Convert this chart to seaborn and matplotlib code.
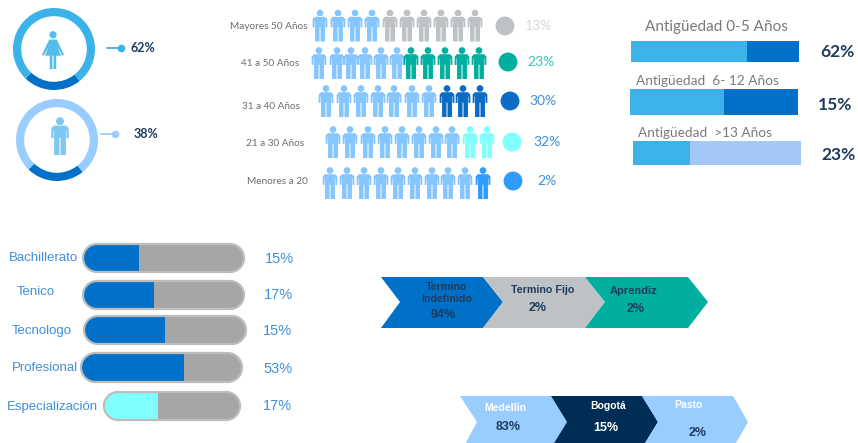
import numpy as np
import pandas as pd
import seaborn as sns
import matplotlib.pyplot as plt
from matplotlib.patches import Polygon
from matplotlib.path import Path

W, H = 858, 443

# data
gender_share = [23, 77]
gender_labels = ['62%', '38%']

age_labels = ['Mayores 50 Años', '41 a 50 Años', '31 a 40 Años', '21 a 30 Años', 'Menores a 20']
age_pct = ['13%', '23%', '30%', '32%', '2%']
age_light = [4, 6, 7, 8, 9]
age_accent = [6, 5, 3, 2, 1]

tenure_labels = ['Antigüedad 0-5 Años', 'Antigüedad  6- 12 Años', 'Antigüedad  >13 Años']
tenure_pct = ['62%', '15%', '23%']
tenure_fill = [0.69, 0.56, 0.34]

edu_labels = ['Bachillerato', 'Tenico', 'Tecnologo', 'Profesional', 'Especialización']
edu_pct = ['15%', '17%', '15%', '53%', '17%']
edu_fill = [0.35, 0.44, 0.50, 0.64, 0.40]

contract_labels = ['Termino\nIndefinido', 'Termino Fijo', 'Aprendiz']
contract_pct = ['94%', '2%', '2%']
city_labels = ['Medellin', 'Bogotá', 'Pasto']
city_pct = ['83%', '15%', '2%']

# styles and layout, all in pixels of the picture
BLUE = '#0070C8'
SKY = '#3BB3E8'
PALE = '#99CCFF'
NAVY = '#1F3B5C'
TEXT_BLUE = '#3F8FD8'
age_colors = ['#BFC2C5', '#00AFA0', '#0A6CC4', '#7FFFFF', '#2E9BFF']
age_pct_colors = ['#D5D7D9', '#3CC4B8', '#3F8FD8', '#3F8FD8', '#3F8FD8']
age_y = [25.5, 63, 101, 142, 183]
age_x = [
    [320, 338, 355, 372, 390, 407, 424, 441, 458, 475],
    [319, 337, 351, 365, 381, 397, 411, 428, 445, 462, 479],
    [326, 344, 361, 378, 394, 412, 429, 447, 463, 480],
    [333, 350, 368, 385, 402, 419, 436, 452, 470, 487],
    [330, 347, 364, 381, 398, 415, 432, 448, 465, 483],
]
age_dot_x = [505, 508, 510, 512, 513]
age_pct_x = [538, 541, 543, 547, 547]
age_pct_y = [26, 62, 101, 142, 181]
age_text_x = [269, 270, 271, 275, 277]
age_text_y = [26, 63, 106, 143, 182]

tenure_box = [(631, 41, 799, 62), (630, 89, 798, 115), (633, 141, 801, 165)]
tenure_right = [BLUE, BLUE, '#A3C8F5']
tenure_text = [(716, 27, 11), (707, 81, 9.8), (705, 133, 9.8)]
tenure_pct_xy = [(837, 52), (835, 105), (838, 155)]

edu_box = [(83, 244, 244, 272), (83, 281, 244, 309), (84, 316, 246, 344),
           (81, 353, 242, 382), (104, 392, 240, 420)]
edu_colors = [BLUE, BLUE, BLUE, BLUE, '#7FFFFF']
edu_text_xy = [(43, 258), (36, 292), (42, 331), (45, 368), (52, 407)]
edu_pct_xy = [(279, 259), (278, 295), (277, 331), (278, 369), (277, 406)]

sns.set_style('white')
plt.rcParams['font.family'] = ['Lato', 'DejaVu Sans']

fig = plt.figure(figsize=(W / 100, H / 100), dpi=100)
ax = fig.add_axes([0, 0, 1, 1])


def pixel_axes(x0, y0, x1, y1):
    a = fig.add_axes([x0 / W, 1 - y1 / H, (x1 - x0) / W, (y1 - y0) / H])
    a.axis('off')
    return a


def pill_points(x0, y0, x1, y1):
    r = (y1 - y0) / 2
    t = np.linspace(-np.pi / 2, np.pi / 2, 40)
    right = np.column_stack([x1 - r + r * np.cos(t), (y0 + r) + r * np.sin(t)])
    left = np.column_stack([x0 + r - r * np.cos(t), (y0 + r) - r * np.sin(t)])
    return np.vstack([right, left])


def person_path():
    head = Path.circle((0, 0.78), 0.21)
    body = Path([(-0.46, 0.4), (-0.32, 0.55), (0.32, 0.55), (0.46, 0.4), (0.46, -0.12),
                 (0.34, -0.12), (0.34, 0.28), (0.31, 0.28), (0.31, -1), (0.03, -1),
                 (0.03, -0.1), (-0.03, -0.1), (-0.03, -1), (-0.31, -1), (-0.31, 0.28),
                 (-0.34, 0.28), (-0.34, -0.12), (-0.46, -0.12), (-0.46, 0.4)], closed=True)
    return Path.make_compound_path(head, body)


def woman_path():
    head = Path.circle((0, 0.8), 0.19)
    body = Path([(-0.2, 0.55), (0.2, 0.55), (0.58, -0.25), (0.49, -0.3), (0.24, 0.15),
                 (0.42, -0.3), (0.17, -0.3), (0.17, -1), (0.03, -1), (0.03, -0.3),
                 (-0.03, -0.3), (-0.03, -1), (-0.17, -1), (-0.17, -0.3), (-0.42, -0.3),
                 (-0.24, 0.15), (-0.49, -0.3), (-0.58, -0.25), (-0.2, 0.55)], closed=True)
    return Path.make_compound_path(head, body)


PERSON = person_path()

# gender donuts
for (cx, cy, light) in [(54, 49, SKY), (57, 140, PALE)]:
    a = pixel_axes(cx - 41, cy - 41, cx + 41, cy + 41)
    a.pie(gender_share, startangle=226, colors=[BLUE, light], radius=1,
          wedgeprops={'width': 0.2, 'linewidth': 0})
    a.set_xlim(-1, 1)
    a.set_ylim(-1, 1)

sns.scatterplot(x=[53], y=[50], marker=woman_path(), s=750, color='#55BDEB',
                edgecolor='none', linewidth=0, legend=False, ax=ax, zorder=5)
sns.scatterplot(x=[60], y=[136], marker=PERSON, s=750, color='#7CC8F2',
                edgecolor='none', linewidth=0, legend=False, ax=ax, zorder=5)

for (x0, x1, y, col, tx, label) in [(107, 121, 48, SKY, 143, gender_labels[0]),
                                    (101, 115, 134, PALE, 146, gender_labels[1])]:
    ax.plot([x0, x1], [y, y], color=col, lw=1.3)
    ax.plot([x1], [y], 'o', color=col, ms=4.5)
    ax.text(tx, y, label, ha='center', va='center', fontsize=9, fontweight='bold', color=NAVY)

# people rows
for i, label in enumerate(age_labels):
    n_light, n_accent = age_light[i], age_accent[i]
    row = pd.DataFrame({'x': age_x[i], 'y': age_y[i],
                        'group': ['light'] * n_light + ['accent'] * n_accent})
    sns.scatterplot(data=row, x='x', y='y', hue='group', marker=PERSON, s=530,
                    palette={'light': '#85C6FF', 'accent': age_colors[i]},
                    edgecolor='none', linewidth=0, legend=False, ax=ax)
    sns.scatterplot(x=[age_dot_x[i]], y=[age_pct_y[i]], s=185, color=age_colors[i],
                    edgecolor='none', linewidth=0, legend=False, ax=ax)
    ax.text(age_text_x[i], age_text_y[i], label, ha='center', va='center', fontsize=7.2, color='#6E6E6E')
    ax.text(age_pct_x[i], age_pct_y[i], age_pct[i], ha='center', va='center',
            fontsize=10, color=age_pct_colors[i])

# tenure bars
for i, box in enumerate(tenure_box):
    a = pixel_axes(*box)
    sns.barplot(x=[1], y=['t'], color=tenure_right[i], width=1, saturation=1, linewidth=0, ax=a)
    sns.barplot(x=[tenure_fill[i]], y=['t'], color=SKY, width=1, saturation=1, linewidth=0, ax=a)
    a.set_xlim(0, 1)
    a.set_ylim(0.5, -0.5)
    a.axis('off')
    tx, ty, fs = tenure_text[i]
    ax.text(tx, ty, tenure_labels[i], ha='center', va='center', fontsize=fs, color='#7A7A7A')
    px, py = tenure_pct_xy[i]
    ax.text(px, py, tenure_pct[i], ha='center', va='center', fontsize=12.5, fontweight='bold', color=NAVY)

# education pills
LS = ['Liberation Sans']
for i, box in enumerate(edu_box):
    x0, y0, x1, y1 = box
    a = pixel_axes(x0, y0, x1, y1)
    sns.barplot(x=[1], y=['e'], color='#A6A6A6', width=1, saturation=1, linewidth=0, ax=a)
    sns.barplot(x=[edu_fill[i]], y=['e'], color=edu_colors[i], width=1, saturation=1, linewidth=0, ax=a)
    a.set_xlim(0, 1)
    a.set_ylim(0.5, -0.5)
    a.axis('off')
    clip = Polygon(pill_points(x0, y0, x1, y1), closed=True, transform=ax.transData,
                   facecolor='none', edgecolor='none')
    ax.add_patch(clip)
    for bar in a.patches:
        bar.set_clip_path(clip)
    edge = Polygon(pill_points(x0, y0, x1, y1), closed=True, transform=ax.transData,
                   facecolor='none', edgecolor='#BDBDBD', lw=1.6, zorder=6, clip_on=False)
    a.add_patch(edge)
    tx, ty = edu_text_xy[i]
    ax.text(tx, ty, edu_labels[i], ha='center', va='center', fontsize=9.5,
            color=TEXT_BLUE, family=LS)
    px, py = edu_pct_xy[i]
    ax.text(px, py, edu_pct[i], ha='center', va='center', fontsize=10.5,
            color=TEXT_BLUE, family=LS)

# chevrons
contract_shapes = [
    [(381, 277), (483, 277), (503, 302), (483, 328), (381, 328), (400, 302)],
    [(483, 277), (585, 277), (605, 302), (585, 328), (483, 328), (503, 302)],
    [(585, 277), (688, 277), (708, 302), (688, 328), (585, 328), (605, 302)],
]
for pts, col in zip(contract_shapes, [BLUE, '#BFC2C5', '#00AFA0']):
    ax.add_patch(Polygon(pts, closed=True, facecolor=col, edgecolor='none'))

city_shapes = [
    [(460, 396), (551, 396), (567, 422), (551, 448), (463, 448), (477, 422)],
    [(551, 396), (642, 396), (658, 422), (642, 448), (551, 448), (567, 422)],
    [(642, 396), (733, 396), (748, 422), (733, 448), (642, 448), (658, 422)],
]
for pts, col in zip(city_shapes, [PALE, '#002D55', PALE]):
    ax.add_patch(Polygon(pts, closed=True, facecolor=col, edgecolor='none'))

ax.text(447, 293, contract_labels[0], ha='center', va='center', fontsize=7.7, color=NAVY,
        fontweight='bold', family=LS, linespacing=1.35)
ax.text(443, 315, contract_pct[0], ha='center', va='center', fontsize=9, color=NAVY, fontweight='bold', family=LS)
ax.text(543, 290, contract_labels[1], ha='center', va='center', fontsize=7.7, color=NAVY, fontweight='bold', family=LS)
ax.text(538, 308, contract_pct[1], ha='center', va='center', fontsize=9, color=NAVY, fontweight='bold', family=LS)
ax.text(634, 291, contract_labels[2], ha='center', va='center', fontsize=8, color=NAVY, fontweight='bold', family=LS)
ax.text(636, 309, contract_pct[2], ha='center', va='center', fontsize=9, color=NAVY, fontweight='bold', family=LS)

ax.text(505, 408, city_labels[0], ha='center', va='center', fontsize=7.5, color='white', fontweight='bold', family=LS)
ax.text(508, 427, city_pct[0], ha='center', va='center', fontsize=9, color=NAVY, fontweight='bold', family=LS)
ax.text(608, 406, city_labels[1], ha='center', va='center', fontsize=7.5, color='white', fontweight='bold', family=LS)
ax.text(606, 428, city_pct[1], ha='center', va='center', fontsize=9, color='white', fontweight='bold', family=LS)
ax.text(688, 405, city_labels[2], ha='center', va='center', fontsize=7.5, color='white', fontweight='bold', family=LS)
ax.text(698, 433, city_pct[2], ha='center', va='center', fontsize=9, color=NAVY, fontweight='bold', family=LS)

ax.set_xlim(0, W)
ax.set_ylim(H, 0)
ax.axis('off')

fig.savefig('out.png', dpi=100)
